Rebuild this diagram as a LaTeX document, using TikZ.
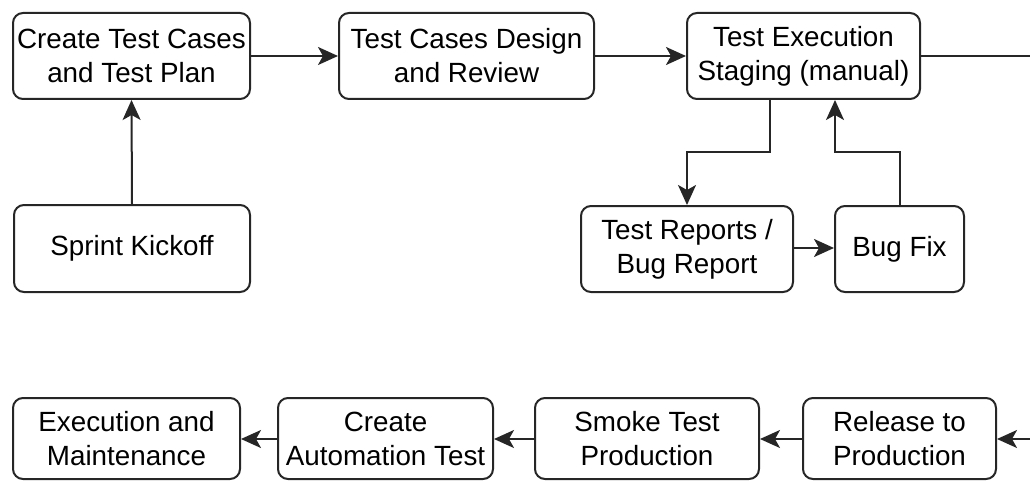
\documentclass[tikz,border=0pt]{standalone}
\usepackage{fontspec}
\setmainfont{Liberation Sans}
\usetikzlibrary{arrows.meta}
\tikzset{headtip/.tip={Stealth[length=20pt,width=18pt,inset=5pt]}}
\begin{document}
\begin{tikzpicture}[x=1pt,y=-1pt,
  stepbox/.style={draw=black!85, line width=2pt, rounded corners=10pt, fill=white,
    align=center, inner sep=0pt, font=\fontsize{27.8}{34}\selectfont},
  flow/.style={draw=black!85, line width=2pt, -headtip},
  plain/.style={draw=black!85, line width=2pt}]
\useasboundingbox (0,0) rectangle (1030,481);
% top row
\node[stepbox, minimum width=237pt, minimum height=86pt] (plan) at (131.5,56) {Create Test Cases\\and Test Plan};
\node[stepbox, minimum width=255pt, minimum height=86pt] (design) at (466.5,56) {Test Cases Design\\and Review};
\node[stepbox, minimum width=233pt, minimum height=86pt] (exec) at (803.5,56) {Test Execution\\Staging (manual)};
% middle row
\node[stepbox, minimum width=236pt, minimum height=87pt] (kick) at (132,248.5) {Sprint Kickoff};
\node[stepbox, minimum width=212pt, minimum height=86pt] (report) at (687,249) {Test Reports /\\Bug Report};
\node[stepbox, minimum width=129pt, minimum height=86pt] (fix) at (899.5,249) {Bug Fix};
% bottom row
\node[stepbox, minimum width=227pt, minimum height=81pt] (maint) at (126.5,438.5) {Execution and\\Maintenance};
\node[stepbox, minimum width=215pt, minimum height=81pt] (auto) at (385.5,438.5) {Create\\Automation Test};
\node[stepbox, minimum width=224pt, minimum height=81pt] (smoke) at (647,438.5) {Smoke Test\\Production};
\node[stepbox, minimum width=193pt, minimum height=81pt] (release) at (899.5,438.5) {Release to\\Production};
% loose ends at the right border
\coordinate (outTop) at (1030,56);
\coordinate (inBot) at (1030,439);
% connectors
\draw[flow] (kick.north) -- (plan.south);
\draw[flow] (plan.east) -- (design.west);
\draw[flow] (design.east) -- (exec.west);
\draw[plain] (exec.east) -- (outTop);
\draw[flow] (exec.south -| 770,0) |- (687,152) -- (report.north);
\draw[flow] (report.east |- 0,248) -- (fix.west |- 0,248);
\draw[flow] (fix.north) |- (835,152) -- (exec.south -| 835,0);
\draw[flow] (inBot) -- (release.east |- inBot);
\draw[flow] (release.west |- inBot) -- (smoke.east |- inBot);
\draw[flow] (smoke.west |- inBot) -- (auto.east |- inBot);
\draw[flow] (auto.west |- inBot) -- (maint.east |- inBot);
\end{tikzpicture}
\end{document}
